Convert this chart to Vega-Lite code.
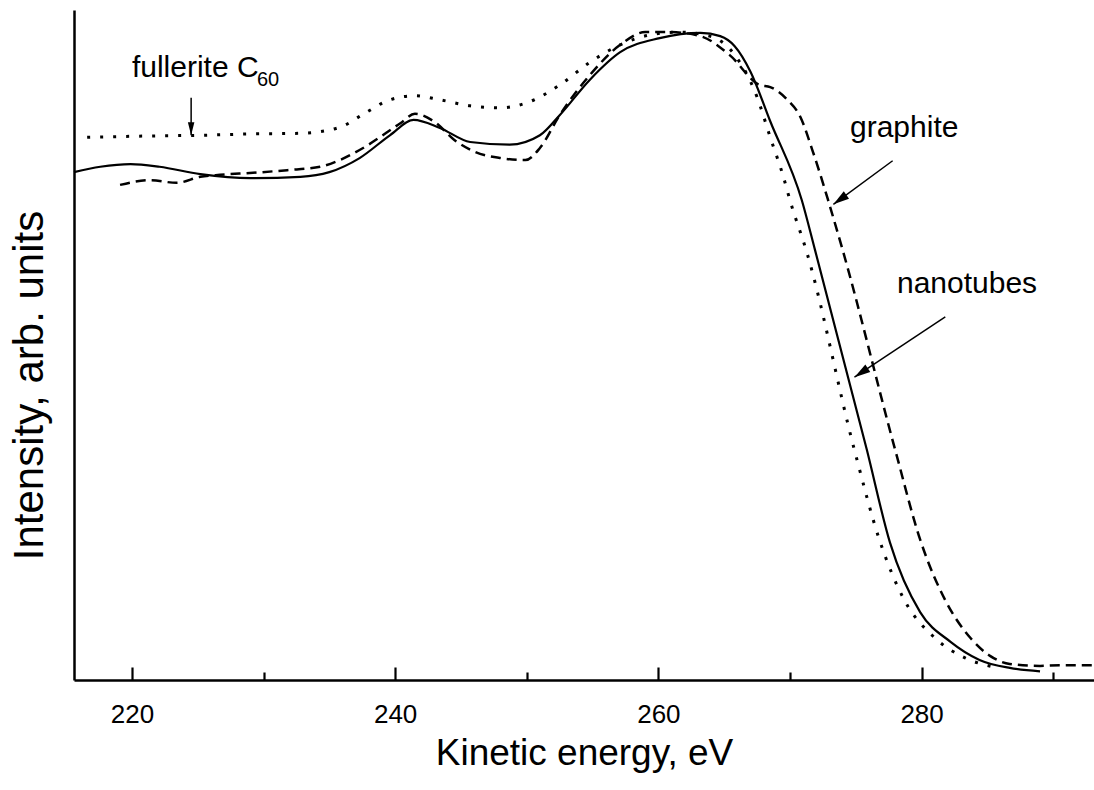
{
 "$schema": "https://vega.github.io/schema/vega-lite/v6.json",
 "width": 1020, "height": 670,
 "autosize": {"type": "none"},
 "padding": {"left": 74, "top": 10, "right": 0, "bottom": 110},
 "background": "white",
 "config": {"view": {"stroke": null}, "font": "Liberation Sans", "axis": {"grid": false}},
 "resolve": {"axis": {"x": "independent"}},
 "datasets": {
  "curves": [
   {"s":"n","E":215.6,"I":75.8},{"s":"n","E":217.6,"I":76.6},{"s":"n","E":219.9,"I":77.0},{"s":"n","E":222.1,"I":76.6},{"s":"n","E":225.2,"I":75.5},{"s":"n","E":229.0,"I":74.9},{"s":"n","E":232.8,"I":75.1},{"s":"n","E":235.0,"I":75.8},{"s":"n","E":237.3,"I":77.9},{"s":"n","E":239.6,"I":81.3},{"s":"n","E":241.4,"I":83.6},{"s":"n","E":243.4,"I":82.4},{"s":"n","E":245.7,"I":80.3},{"s":"n","E":248.7,"I":79.9},{"s":"n","E":251.0,"I":81.3},{"s":"n","E":252.5,"I":84.3},{"s":"n","E":254.8,"I":89.6},{"s":"n","E":257.1,"I":93.7},{"s":"n","E":260.1,"I":95.8},{"s":"n","E":263.2,"I":96.6},{"s":"n","E":264.7,"I":96.1},{"s":"n","E":265.8,"I":94.6},{"s":"n","E":267.0,"I":90.8},{"s":"n","E":268.5,"I":83.4},{"s":"n","E":270.9,"I":71.6},{"s":"n","E":271.9,"I":64.2},{"s":"n","E":275.85,"I":34.3},{"s":"n","E":277.6,"I":20.5},{"s":"n","E":279.9,"I":10.1},{"s":"n","E":282.2,"I":5.7},{"s":"n","E":284.4,"I":3.0},{"s":"n","E":286.7,"I":1.8},{"s":"n","E":289.0,"I":1.3},
   {"s":"g","E":219.1,"I":73.9},{"s":"g","E":221.4,"I":74.6},{"s":"g","E":223.4,"I":74.2},{"s":"g","E":225.2,"I":75.1},{"s":"g","E":226.7,"I":75.4},{"s":"g","E":229.2,"I":75.7},{"s":"g","E":231.8,"I":76.1},{"s":"g","E":234.3,"I":76.6},{"s":"g","E":235.8,"I":77.6},{"s":"g","E":237.3,"I":79.1},{"s":"g","E":240.4,"I":83.1},{"s":"g","E":241.5,"I":84.5},{"s":"g","E":243.0,"I":83.3},{"s":"g","E":244.5,"I":80.6},{"s":"g","E":246.1,"I":78.8},{"s":"g","E":248.0,"I":77.9},{"s":"g","E":249.9,"I":77.6},{"s":"g","E":251.0,"I":79.4},{"s":"g","E":252.5,"I":84.3},{"s":"g","E":254.8,"I":90.3},{"s":"g","E":257.1,"I":94.8},{"s":"g","E":259.0,"I":96.7},{"s":"g","E":260.9,"I":96.7},{"s":"g","E":263.2,"I":96.1},{"s":"g","E":265.4,"I":93.3},{"s":"g","E":267.7,"I":88.8},{"s":"g","E":268.5,"I":88.5},{"s":"g","E":269.8,"I":86.6},{"s":"g","E":270.8,"I":84.0},{"s":"g","E":271.7,"I":79.1},{"s":"g","E":272.5,"I":74.2},{"s":"g","E":272.9,"I":71.6},{"s":"g","E":274.0,"I":64.2},{"s":"g","E":278.0,"I":34.3},{"s":"g","E":279.9,"I":20.9},{"s":"g","E":281.8,"I":11.9},{"s":"g","E":283.7,"I":6.3},{"s":"g","E":285.2,"I":3.6},{"s":"g","E":286.7,"I":2.4},{"s":"g","E":289.0,"I":2.1},{"s":"g","E":290.5,"I":2.2},{"s":"g","E":292.95,"I":2.2},
   {"s":"f","E":216.6,"I":81.0},{"s":"f","E":221.4,"I":81.2},{"s":"f","E":225.2,"I":81.3},{"s":"f","E":229.0,"I":81.5},{"s":"f","E":232.8,"I":81.6},{"s":"f","E":235.8,"I":82.5},{"s":"f","E":237.7,"I":84.6},{"s":"f","E":239.6,"I":86.6},{"s":"f","E":241.5,"I":87.2},{"s":"f","E":243.4,"I":86.6},{"s":"f","E":245.7,"I":85.7},{"s":"f","E":248.0,"I":85.4},{"s":"f","E":250.2,"I":86.3},{"s":"f","E":252.5,"I":88.8},{"s":"f","E":254.8,"I":92.2},{"s":"f","E":257.1,"I":94.8},{"s":"f","E":259.4,"I":96.3},{"s":"f","E":261.6,"I":96.7},{"s":"f","E":263.9,"I":96.1},{"s":"f","E":265.8,"I":93.3},{"s":"f","E":267.5,"I":87.0},{"s":"f","E":268.5,"I":81.0},{"s":"f","E":269.5,"I":75.1},{"s":"f","E":270.0,"I":71.6},{"s":"f","E":271.3,"I":63.7},{"s":"f","E":274.9,"I":34.3},{"s":"f","E":276.8,"I":20.9},{"s":"f","E":278.7,"I":11.9},{"s":"f","E":281.0,"I":6.3},{"s":"f","E":283.3,"I":3.3},{"s":"f","E":285.6,"I":1.9}
  ],
  "labels": [
   {"text":"fullerite C","E":220.0,"I":90.0},
   {"text":"graphite","E":274.56,"I":81.0},
   {"text":"nanotubes","E":278.13,"I":57.8}
  ],
  "sub": [{"text":"60","E":229.5,"I":88.7}],
  "arrows": [
   {"name":"fullerite","E":224.5,"I":86.9,"E2":224.5,"I2":81.3},
   {"name":"graphite","E":277.8,"I":77.5,"E2":273.3,"I2":71.0},
   {"name":"nanotubes","E":281.8,"I":54.2,"E2":274.9,"I2":45.2}
  ]
 },
 "layer": [
  {
   "data": {"name": "curves"},
   "transform": [{"filter": "datum.s === 'n'"}],
   "mark": {"type": "line", "color": "black", "strokeWidth": 2.2, "interpolate": "monotone"},
   "encoding": {
    "x": {"field": "E", "type": "quantitative", "scale": {"domain": [215.6, 293.1], "nice": false, "zero": false},
     "axis": {"orient": "bottom", "title": "Kinetic energy, eV", "titleFontSize": 37, "titleFontWeight": "normal", "titleColor": "black", "titleBaseline": "alphabetic", "titleY": 84,
      "values": [220, 240, 260, 280],
      "labelFontSize": 26, "labelColor": "black", "labelPadding": 34,
      "tickSize": -13, "tickColor": "black", "tickWidth": 2.2, "domainColor": "black", "domainWidth": 2.5}},
    "y": {"field": "I", "type": "quantitative", "scale": {"domain": [0, 100], "nice": false, "zero": false},
     "axis": {"title": "Intensity, arb. units", "titleFontSize": 42, "titleFontWeight": "normal", "titleColor": "black", "titleBaseline": "alphabetic", "titleAngle": 270, "titleX": -32, "titleY": 375, "titleAlign": "center",
      "ticks": false, "labels": false, "domainColor": "black", "domainWidth": 2.5}}
   }
  },
  {
   "data": {"name": "curves"},
   "transform": [{"filter": "datum.s === 'g'"}],
   "mark": {"type": "line", "color": "black", "strokeWidth": 2.5, "strokeDash": [10, 6], "interpolate": "monotone"},
   "encoding": {
    "x": {"field": "E", "type": "quantitative",
     "axis": {"orient": "bottom", "values": [230, 250, 270, 290], "tickSize": -8, "tickWidth": 2.2, "tickColor": "black", "labels": false, "domain": false, "title": null, "grid": false}},
    "y": {"field": "I", "type": "quantitative"}}
  },
  {
   "data": {"name": "curves"},
   "transform": [{"filter": "datum.s === 'f'"}],
   "mark": {"type": "line", "color": "black", "strokeWidth": 3, "strokeDash": [3, 10], "interpolate": "monotone"},
   "encoding": {"x": {"field": "E", "type": "quantitative", "axis": null}, "y": {"field": "I", "type": "quantitative"}}
  },
  {
   "mark": {"type": "rule", "color": "black", "strokeWidth": 2.5},
   "encoding": {"y": {"datum": 100}}
  },
  {
   "data": {"name": "arrows"},
   "mark": {"type": "rule", "color": "black", "strokeWidth": 1.5},
   "encoding": {"x": {"field": "E", "type": "quantitative", "axis": null}, "y": {"field": "I", "type": "quantitative"}, "x2": {"field": "E2"}, "y2": {"field": "I2"}}
  },
  {
   "data": {"name": "arrows"},
   "transform": [{"filter": "datum.name === 'fullerite'"}],
   "mark": {"type": "point", "shape": "M0,0L-0.25,1L0.25,1Z", "filled": true, "color": "black", "opacity": 1, "size": 676, "angle": 180},
   "encoding": {"x": {"field": "E2", "type": "quantitative", "axis": null}, "y": {"field": "I2", "type": "quantitative"}}
  },
  {
   "data": {"name": "arrows"},
   "transform": [{"filter": "datum.name === 'graphite'"}],
   "mark": {"type": "point", "shape": "M0,0L-0.28,1L0.28,1Z", "filled": true, "color": "black", "opacity": 1, "size": 1024, "angle": 234.4},
   "encoding": {"x": {"field": "E2", "type": "quantitative", "axis": null}, "y": {"field": "I2", "type": "quantitative"}}
  },
  {
   "data": {"name": "arrows"},
   "transform": [{"filter": "datum.name === 'nanotubes'"}],
   "mark": {"type": "point", "shape": "M0,0L-0.28,1L0.28,1Z", "filled": true, "color": "black", "opacity": 1, "size": 1024, "angle": 236.6},
   "encoding": {"x": {"field": "E2", "type": "quantitative", "axis": null}, "y": {"field": "I2", "type": "quantitative"}}
  },
  {
   "data": {"name": "labels"},
   "mark": {"type": "text", "align": "left", "baseline": "alphabetic", "fontSize": 30, "color": "black", "font": "Liberation Sans"},
   "encoding": {"x": {"field": "E", "type": "quantitative", "axis": null}, "y": {"field": "I", "type": "quantitative"}, "text": {"field": "text"}}
  },
  {
   "data": {"name": "sub"},
   "mark": {"type": "text", "align": "left", "baseline": "alphabetic", "fontSize": 20, "color": "black", "font": "Liberation Sans"},
   "encoding": {"x": {"field": "E", "type": "quantitative", "axis": null}, "y": {"field": "I", "type": "quantitative"}, "text": {"field": "text"}}
  }
 ]
}
